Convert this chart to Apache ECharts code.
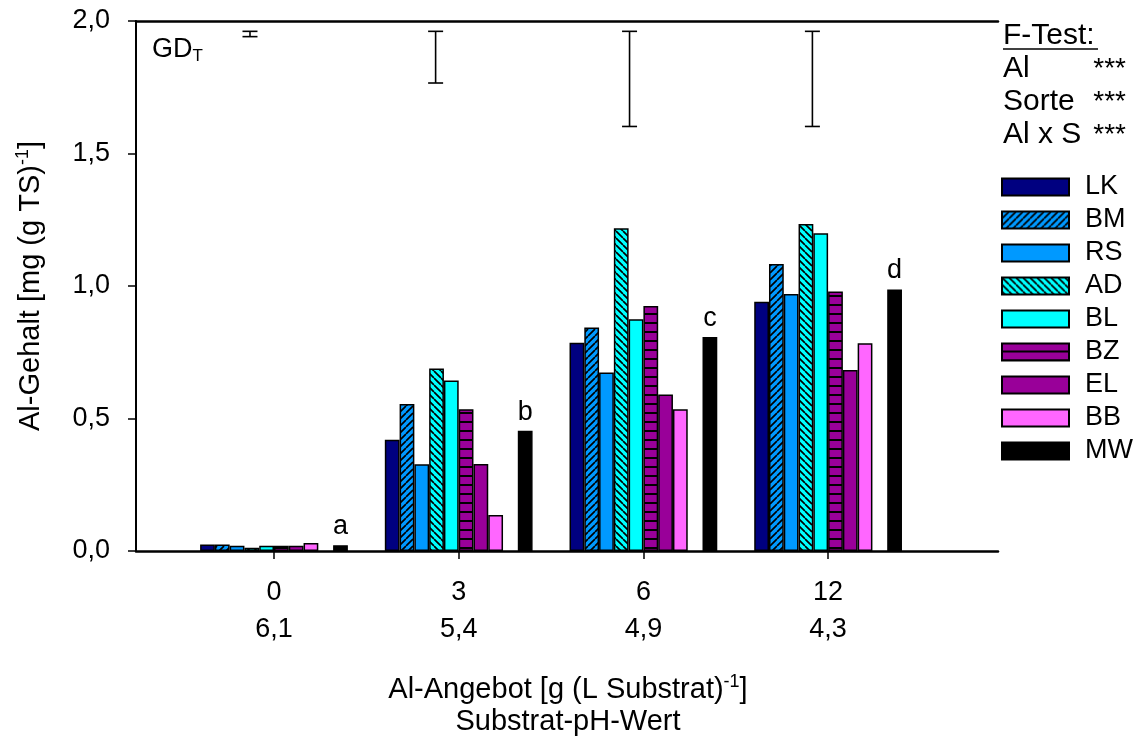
<!DOCTYPE html>
<html>
<head>
<meta charset="utf-8">
<script src="https://cdn.jsdelivr.net/npm/echarts@6/dist/echarts.min.js"></script>
<style>
html,body{margin:0;padding:0;background:#fff;}
#chart{width:1138px;height:740px;}
</style>
</head>
<body>
<div id="chart"></div>
<script>
// ---- data ----
const categories = ['0', '3', '6', '12'];
const phValues = ['6,1', '5,4', '4,9', '4,3'];
const LK = [0.025, 0.420, 0.786, 0.941];
const BM = [0.025, 0.555, 0.843, 1.083];
const RS = [0.020, 0.327, 0.674, 0.970];
const AD = [0.012, 0.689, 1.218, 1.234];
const BL = [0.020, 0.643, 0.875, 1.199];
const BZ = [0.020, 0.535, 0.925, 0.979];
const EL = [0.020, 0.328, 0.591, 0.683];
const BB = [0.030, 0.136, 0.535, 0.784];
const MW = [0.022, 0.454, 0.808, 0.987];
const letters = ['a', 'b', 'c', 'd'];
// GD_T bars (x in category-index units, low, high)
const gdX = [-0.13, 0.875, 1.925, 2.915];
const gdLow = [1.941, 1.766, 1.602, 1.602];
const gdHigh = [1.961, 1.961, 1.961, 1.961];

const FONT = "'Liberation Sans', Arial, sans-serif";

function hatch(bg, type, size) {
  const c = document.createElement('canvas');
  c.width = size; c.height = size;
  const g = c.getContext('2d');
  g.fillStyle = bg; g.fillRect(0, 0, size, size);
  g.fillStyle = '#000'; g.strokeStyle = '#000'; g.lineWidth = 1.7;
  if (type === 'h') {
    g.fillRect(0, size - 2, size, 2);
  } else {
    g.beginPath();
    for (const k of [-size, 0, size]) {
      if (type === 'fwd') { g.moveTo(k, size); g.lineTo(k + size, 0); }
      else { g.moveTo(k, 0); g.lineTo(k + size, size); }
    }
    g.stroke();
  }
  return { image: c, repeat: 'repeat' };
}

const seriesDefs = [
  { name: 'LK', data: LK, color: '#000080' },
  { name: 'BM', data: BM, color: hatch('#0099FF', 'fwd', 7) },
  { name: 'RS', data: RS, color: '#0099FF' },
  { name: 'AD', data: AD, color: hatch('#00FFFF', 'back', 7) },
  { name: 'BL', data: BL, color: '#00FFFF' },
  { name: 'BZ', data: BZ, color: hatch('#990099', 'h', 9) },
  { name: 'EL', data: EL, color: '#990099' },
  { name: 'BB', data: BB, color: '#FF66FF' },
  { name: ' ', data: categories.map(() => null), color: '#fff' },
  { name: 'MW', data: MW, color: '#000000' }
];

const series = seriesDefs.map(s => {
  const o = {
    type: 'bar', name: s.name, data: s.data,
    xAxisIndex: 1, yAxisIndex: 1,
    barGap: '0%', barCategoryGap: '20%',
    itemStyle: { color: s.color, borderColor: '#000', borderWidth: 1.5 },
    emphasis: { disabled: true },
    animation: false
  };
  if (s.name === 'MW') {
    o.label = {
      show: true, position: 'top', distance: 5,
      formatter: p => letters[p.dataIndex],
      fontSize: 27, color: '#000', fontFamily: FONT
    };
  }
  return o;
});

series.push({
  type: 'custom', xAxisIndex: 2, yAxisIndex: 1, animation: false,
  data: gdX.map((x, i) => [x, gdLow[i], gdHigh[i]]),
  renderItem: function (params, api) {
    const lo = api.coord([api.value(0), api.value(1)]);
    const hi = api.coord([api.value(0), api.value(2)]);
    const w = 7.5;
    const st = { stroke: '#000', lineWidth: 1.6 };
    return {
      type: 'group', children: [
        { type: 'line', shape: { x1: lo[0], y1: lo[1], x2: hi[0], y2: hi[1] }, style: st },
        { type: 'line', shape: { x1: lo[0] - w, y1: lo[1], x2: lo[0] + w, y2: lo[1] }, style: st },
        { type: 'line', shape: { x1: hi[0] - w, y1: hi[1], x2: hi[0] + w, y2: hi[1] }, style: st }
      ]
    };
  }
});

const frameLine = { show: true, lineStyle: { color: '#000', width: 2.5 } };

const chart = echarts.init(document.getElementById('chart'), null, { renderer: 'canvas' });
chart.setOption({
  animation: false,
  textStyle: { fontFamily: FONT, color: '#000' },
  grid: [
    { left: 136, top: 21, width: 862, height: 530 },
    { left: 181.65, top: 21, width: 738.8, height: 530 }
  ],
  xAxis: [
    { type: 'value', gridIndex: 0, min: 0, max: 1, position: 'bottom', axisLine: frameLine, axisTick: { show: false }, axisLabel: { show: false }, splitLine: { show: false } },
    {
      type: 'category', gridIndex: 1, data: categories,
      axisLine: { show: false },
      axisTick: { show: true, alignWithLabel: true, length: 8, lineStyle: { color: '#000', width: 1.5 } },
      axisLabel: {
        margin: 23, fontSize: 27, lineHeight: 37, color: '#000', fontFamily: FONT,
        formatter: (v, i) => v + '\n' + phValues[i]
      }
    },
    { type: 'value', gridIndex: 1, min: -0.5, max: 3.5, show: false },
    { type: 'value', gridIndex: 0, min: 0, max: 1, position: 'top', axisLine: frameLine, axisTick: { show: false }, axisLabel: { show: false }, splitLine: { show: false } }
  ],
  yAxis: [
    {
      type: 'value', gridIndex: 0, min: 0, max: 2, interval: 0.5,
      axisLine: { show: true, lineStyle: { color: '#000', width: 2 } },
      axisTick: { show: true, length: 8, lineStyle: { color: '#000', width: 1.5 } },
      splitLine: { show: false },
      axisLabel: {
        margin: 26, fontSize: 27, color: '#000', fontFamily: FONT,
        formatter: v => v.toFixed(1).replace('.', ',')
      }
    },
    { type: 'value', gridIndex: 1, min: 0, max: 2, show: false }
  ],
  legend: {
    orient: 'vertical', left: 1001, top: 173.5, padding: 0,
    itemWidth: 67, itemHeight: 17, itemGap: 6,
    data: ['LK', 'BM', 'RS', 'AD', 'BL', 'BZ', 'EL', 'BB', 'MW'],
    textStyle: { fontSize: 27, color: '#000', fontFamily: FONT, padding: [0, 0, 0, 11] },
    selectedMode: false,
    icon: 'rect'
  },
  series: series,
  graphic: [
    {
      type: 'text', x: 31, y: 286, rotation: Math.PI / 2,
      style: {
        text: '{a|Al-Gehalt [mg (g TS)}{s|-1}{a|]}',
        align: 'center', verticalAlign: 'middle',
        rich: {
          a: { fontSize: 29, lineHeight: 33, fontFamily: FONT, fill: '#000' },
          s: { fontSize: 18, lineHeight: 13, verticalAlign: 'top', fontFamily: FONT, fill: '#000' }
        }
      }
    },
    {
      type: 'text', x: 568, y: 690,
      style: {
        text: '{a|Al-Angebot [g (L Substrat)}{s|-1}{a|]}',
        align: 'center', verticalAlign: 'middle',
        rich: {
          a: { fontSize: 29, lineHeight: 33, fontFamily: FONT, fill: '#000' },
          s: { fontSize: 18, lineHeight: 13, verticalAlign: 'top', fontFamily: FONT, fill: '#000' }
        }
      }
    },
    {
      type: 'text', x: 568, y: 722,
      style: { text: 'Substrat-pH-Wert', align: 'center', verticalAlign: 'middle', fontSize: 29, fontFamily: FONT, fill: '#000' }
    },
    {
      type: 'text', x: 152, y: 50,
      style: {
        text: '{a|GD}{b|T}', align: 'left', verticalAlign: 'middle',
        rich: {
          a: { fontSize: 27, lineHeight: 30, fontFamily: FONT, fill: '#000' },
          b: { fontSize: 17, lineHeight: 12, verticalAlign: 'bottom', fontFamily: FONT, fill: '#000' }
        }
      }
    },
    { type: 'text', x: 1003, y: 36, style: { text: 'F-Test:', align: 'left', verticalAlign: 'middle', fontSize: 30, fontFamily: FONT, fill: '#000' } },
    { type: 'line', shape: { x1: 1003, y1: 49, x2: 1098, y2: 49 }, style: { stroke: '#000', lineWidth: 1.5 } },
    { type: 'text', x: 1003, y: 69, style: { text: 'Al', align: 'left', verticalAlign: 'middle', fontSize: 30, fontFamily: FONT, fill: '#000' } },
    { type: 'text', x: 1003, y: 102, style: { text: 'Sorte', align: 'left', verticalAlign: 'middle', fontSize: 30, fontFamily: FONT, fill: '#000' } },
    { type: 'text', x: 1003, y: 135, style: { text: 'Al x S', align: 'left', verticalAlign: 'middle', fontSize: 30, fontFamily: FONT, fill: '#000' } },
    { type: 'text', x: 1126, y: 69, style: { text: '***', align: 'right', verticalAlign: 'middle', fontSize: 28, fontFamily: FONT, fill: '#000' } },
    { type: 'text', x: 1126, y: 102, style: { text: '***', align: 'right', verticalAlign: 'middle', fontSize: 28, fontFamily: FONT, fill: '#000' } },
    { type: 'text', x: 1126, y: 135, style: { text: '***', align: 'right', verticalAlign: 'middle', fontSize: 28, fontFamily: FONT, fill: '#000' } }
  ]
});
</script>
</body>
</html>
